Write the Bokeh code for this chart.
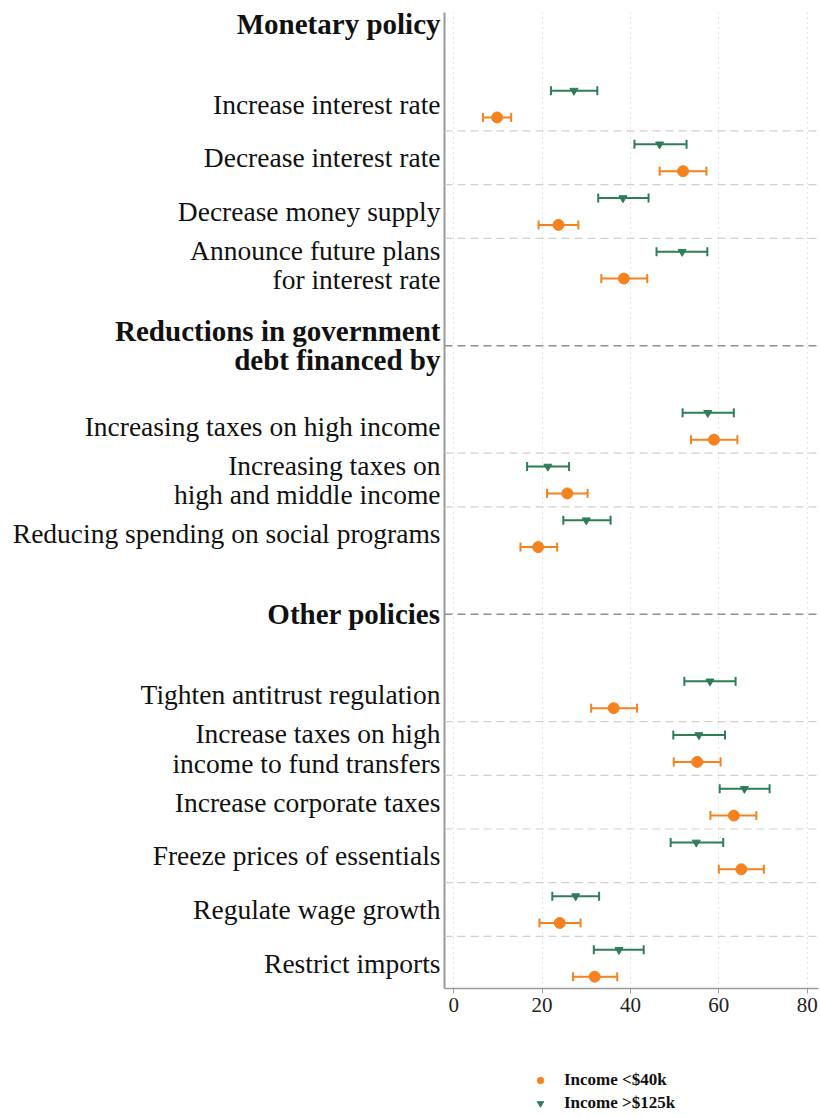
from bokeh.plotting import figure
from bokeh.layouts import row, column
from bokeh.models import (Range1d, FixedTicker, Span, Whisker, TeeHead,
                          ColumnDataSource, Legend, LegendItem)
from bokeh.core.properties import value
from bokeh.embed import file_html
from bokeh.resources import INLINE

# ---------------- data ----------------
sections = ["Monetary policy", "Reductions in government\ndebt financed by", "Other policies"]
section_items = [
    ["Increase interest rate", "Decrease interest rate", "Decrease money supply",
     "Announce future plans\nfor interest rate"],
    ["Increasing taxes on high income", "Increasing taxes on\nhigh and middle income",
     "Reducing spending on social programs"],
    ["Tighten antitrust regulation", "Increase taxes on high\nincome to fund transfers",
     "Increase corporate taxes", "Freeze prices of essentials", "Regulate wage growth",
     "Restrict imports"],
]
# Income < $40k (orange)
low_est = [9.8, 51.9, 23.7, 38.5, 58.9, 25.7, 19.1, 36.2, 55.1, 63.4, 65.1, 24.0, 31.9]
low_lo = [6.6, 46.6, 19.2, 33.4, 53.7, 21.1, 15.1, 31.1, 49.8, 58.1, 60.0, 19.4, 27.0]
low_hi = [13.0, 57.2, 28.2, 43.8, 64.2, 30.3, 23.4, 41.5, 60.4, 68.5, 70.2, 28.7, 37.0]
# Income > $125k (green)
high_est = [27.2, 46.6, 38.3, 51.7, 57.5, 21.3, 30.0, 58.0, 55.5, 65.8, 54.9, 27.6, 37.4]
high_lo = [22.0, 40.9, 32.7, 45.9, 51.8, 16.6, 24.8, 52.2, 49.7, 60.2, 49.1, 22.3, 31.7]
high_hi = [32.5, 52.7, 44.1, 57.4, 63.4, 26.1, 35.5, 63.8, 61.4, 71.5, 61.0, 32.9, 43.0]
x_ticks = [0, 20, 40, 60, 80]
legend_labels = ["Income <$40k", "Income >$125k"]

ORANGE = "#f5821f"
GREEN = "#2e7d57"
SERIF = "Liberation Serif"

# ---------------- layout positions (slots) ----------------
header_pos = []
item_pos = []
item_labels = []
light_seps = []
s = 0.0
for sec, items in zip(sections, section_items):
    header_pos.append(s)
    s += 1.5
    sec_pos = []
    for it in items:
        sec_pos.append(s)
        item_labels.append(it)
        s += 1.0
    item_pos.extend(sec_pos)
    light_seps.extend([q + 0.5 for q in sec_pos[:-1]])
    s += 0.5

low_y = [q + 0.25 for q in item_pos]
high_y = [q - 0.25 for q in item_pos]

LEFT_W = 441
MAIN_H = 1040
LEG_H = 1117 - MAIN_H
yr = Range1d(17.97, -0.205)

# ---------------- main plot ----------------
p = figure(width=820 - LEFT_W, height=MAIN_H, output_backend="svg", toolbar_location=None,
           x_range=Range1d(-2.1, 82.57), y_range=yr,
           min_border_left=3, min_border_right=2, min_border_top=12,
           min_border_bottom=52)
p.outline_line_color = None

p.xaxis.ticker = FixedTicker(ticks=x_ticks)
p.xaxis.axis_line_color = "#9a9a9a"
p.xaxis.axis_line_width = 1.5
p.xaxis.major_tick_line_color = "#9a9a9a"
p.xaxis.major_tick_out = 5
p.xaxis.major_tick_in = 0
p.xaxis.minor_tick_line_color = None
p.xaxis.major_label_text_font = SERIF
p.xaxis.major_label_text_font_size = "21px"
p.xaxis.major_label_text_color = "#222222"
p.xaxis.major_label_standoff = 4

p.yaxis.ticker = FixedTicker(ticks=[])
p.yaxis.axis_line_color = "#9a9a9a"
p.yaxis.axis_line_width = 2
p.yaxis.major_label_text_font_size = "0px"
p.yaxis.major_tick_line_color = None
p.yaxis.minor_tick_line_color = None
p.yaxis.major_tick_out = 0
p.yaxis.major_tick_in = 0
p.yaxis.major_label_standoff = 0

p.xgrid.ticker = FixedTicker(ticks=x_ticks)
p.xgrid.grid_line_color = "#c8c8c8"
p.xgrid.grid_line_dash = "1 4"
p.ygrid.grid_line_color = None

for yv in light_seps:
    p.add_layout(Span(location=yv, dimension="width", line_color="#d0d0d0",
                      line_dash="8 5", line_width=1.2))
for yv in header_pos[1:]:
    p.add_layout(Span(location=yv, dimension="width", line_color="#8f8f8f",
                      line_dash="8 5", line_width=1.5))

src_low = ColumnDataSource(dict(y=low_y, x=low_est, lo=low_lo, hi=low_hi))
src_high = ColumnDataSource(dict(y=high_y, x=high_est, lo=high_lo, hi=high_hi))
for src, col in ((src_low, ORANGE), (src_high, GREEN)):
    p.add_layout(Whisker(source=src, base="y", lower="lo", upper="hi", dimension="width",
                         line_color=col, line_width=2,
                         lower_head=TeeHead(size=9, line_color=col, line_width=2),
                         upper_head=TeeHead(size=9, line_color=col, line_width=2)))

p.scatter("x", "y", source=src_low, marker="circle", size=11,
          fill_color=ORANGE, line_color=ORANGE)
p.scatter("x", "y", source=src_high, marker="inverted_triangle", size=8,
          fill_color=GREEN, line_color=GREEN)

# ---------------- label column ----------------
lab = figure(width=LEFT_W, height=MAIN_H, output_backend="svg", toolbar_location=None,
             x_range=Range1d(0, LEFT_W), y_range=yr,
             x_axis_location=None, y_axis_location=None,
             min_border_left=0, min_border_right=0, min_border_top=12,
             min_border_bottom=52)
lab.outline_line_color = None
lab.grid.grid_line_color = None
lab.text(x=[LEFT_W - 1] * len(item_pos), y=item_pos, text=item_labels,
         text_align="right", text_baseline="middle", text_font=value(SERIF),
         text_font_size="27.5px", text_color="#111111", text_line_height=0.95)
lab.text(x=[LEFT_W - 1] * len(header_pos), y=header_pos, text=sections,
         text_align="right", text_baseline="middle", text_font=value(SERIF),
         text_font_size="29px", text_font_style="bold", text_color="#111111",
         text_line_height=0.9)

# ---------------- legend strip (same data, outside its visible window) ----------------
leg = figure(width=820, height=LEG_H, output_backend="svg", toolbar_location=None,
             x_range=Range1d(-1, 0), y_range=Range1d(-1, 0),
             x_axis_location=None, y_axis_location=None,
             min_border_left=0, min_border_right=0, min_border_top=0, min_border_bottom=0)
leg.outline_line_color = None
leg.grid.grid_line_color = None
g1 = leg.scatter("x", "y", source=src_low, marker="circle", size=11,
                 fill_color=ORANGE, line_color=ORANGE)
g2 = leg.scatter("x", "y", source=src_high, marker="inverted_triangle", size=8,
                 fill_color=GREEN, line_color=GREEN)
legend = Legend(items=[LegendItem(label=legend_labels[0], renderers=[g1]),
                       LegendItem(label=legend_labels[1], renderers=[g2])],
                location=(532, 4), orientation="vertical",
                label_text_font=SERIF, label_text_font_size="17px",
                label_text_font_style="bold", label_text_color="#111111",
                glyph_width=16, glyph_height=20, label_height=20, label_standoff=16,
                spacing=3, padding=0, margin=0,
                background_fill_alpha=0, border_line_color=None)
leg.add_layout(legend, "center")

layout = column(row(lab, p), leg)
open("out.html", "w").write(file_html(layout, INLINE))
